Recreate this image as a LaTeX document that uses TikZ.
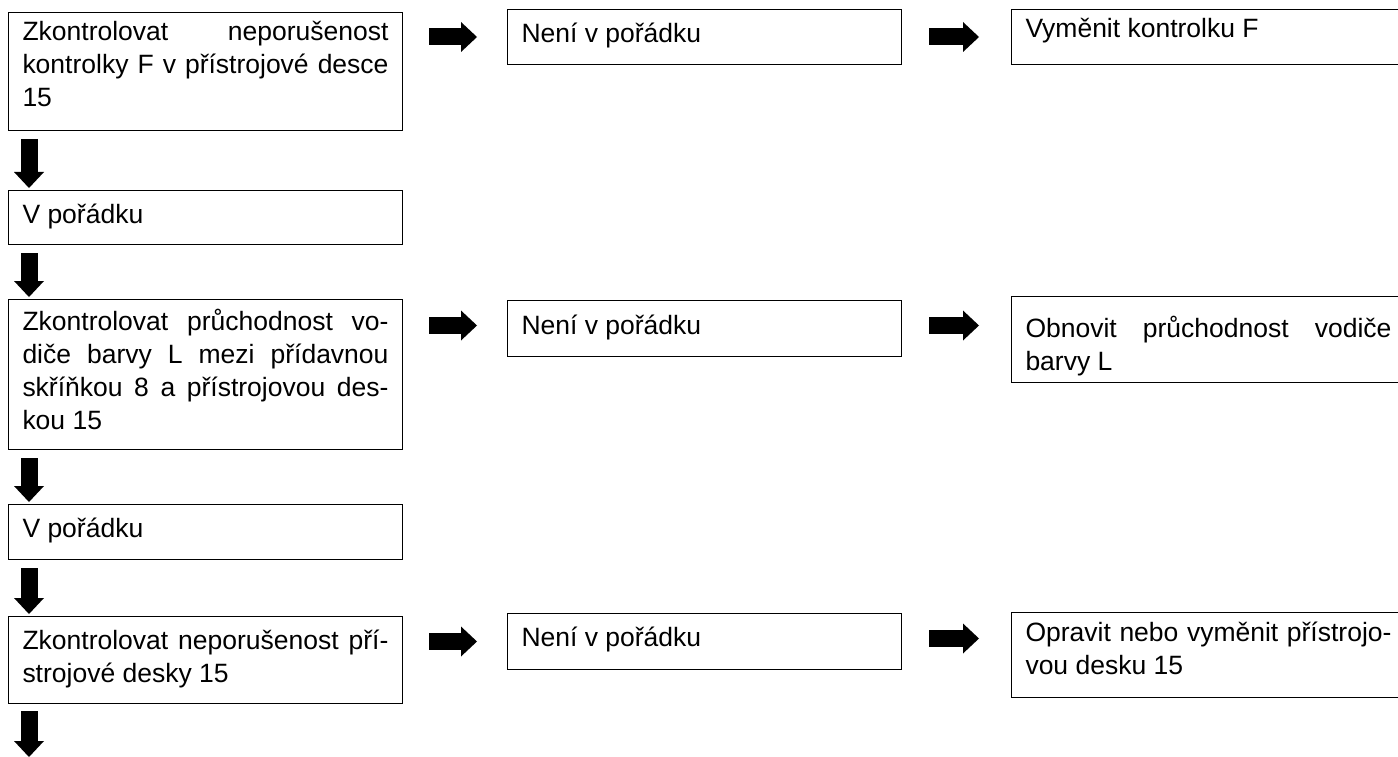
\documentclass[tikz,border=0pt]{standalone}
\usepackage{fontspec}
\setmainfont{Liberation Sans}
\usetikzlibrary{arrows.meta}

\tikzset{
  box/.style={draw, line width=1pt, anchor=north west, text width=366pt,
    inner xsep=14pt, inner ysep=0pt, align=justify,
    font=\fontsize{26.5}{33}\selectfont},
  fat/.style={line width=17pt,
    -{Triangle[length=16pt,width=30pt,line width=0pt]}},
}

\begin{document}
\begin{tikzpicture}[x=1pt,y=-1pt]

    \useasboundingbox (0,0) rectangle (1398,757);

    % Left column: the checks and their results
    \node[box, text height=28pt, text depth=90pt] (A1) at (8,12)
        {Zkontrolovat neporušenost\linebreak kontrolky F v přístrojové desce\linebreak 15};
    \node[box, text height=33pt, text depth=21pt] (A2) at (8,190) {V pořádku};
    \node[box, text height=31pt, text depth=119pt] (A3) at (8,299)
        {Zkontrolovat průchodnost vo-\linebreak diče barvy L mezi přídavnou\linebreak skříňkou 8 a přístrojovou des-\linebreak kou 15};
    \node[box, text height=33pt, text depth=22pt] (A4) at (8,504) {V pořádku};
    \node[box, text height=33pt, text depth=54pt] (A5) at (8,616)
        {Zkontrolovat neporušenost pří-\linebreak strojové desky 15};

    % Middle column
    \node[box, text height=33pt, text depth=22pt] (B1) at (507,9) {Není v pořádku};
    \node[box, text height=34pt, text depth=22pt] (B3) at (507,300) {Není v pořádku};
    \node[box, text height=33pt, text depth=23pt] (B5) at (507,613) {Není v pořádku};

    % Right column: the repairs
    \node[box, text height=28pt, text depth=27pt] (C1) at (1011,9) {Vyměnit kontrolku F};
    \node[box, text height=41pt, text depth=45pt] (C3) at (1011,296)
        {Obnovit průchodnost vodiče\linebreak barvy L};
    \node[box, text height=29pt, text depth=56pt] (C5) at (1011,612)
        {Opravit nebo vyměnit přístrojo-\linebreak vou desku 15};

    % Arrows down the left column
    \draw[fat, shorten <=8pt, shorten >=2pt] ([xshift=21pt]A1.south west) -- ([xshift=21pt]A2.north west);
    \draw[fat, shorten <=8pt, shorten >=2pt] ([xshift=21pt]A2.south west) -- ([xshift=21pt]A3.north west);
    \draw[fat, shorten <=8pt, shorten >=2pt] ([xshift=21pt]A3.south west) -- ([xshift=21pt]A4.north west);
    \draw[fat, shorten <=8pt, shorten >=2pt] ([xshift=21pt]A4.south west) -- ([xshift=21pt]A5.north west);
    \coordinate (end) at (29,757);
    \draw[fat, shorten <=7pt] ([xshift=21pt]A5.south west) -- (end);

    % Arrows to the right
    \draw[fat, shorten <=26pt, shorten >=30pt] (A1.east |- B1.west) -- (B1.west);
    \draw[fat, shorten <=27pt, shorten >=32pt] (B1.east) -- (C1.west |- B1.east);
    \draw[fat, shorten <=26pt, shorten >=30pt] ([yshift=3pt]A3.east |- B3.west) -- ([yshift=3pt]B3.west);
    \draw[fat, shorten <=27pt, shorten >=32pt] ([yshift=3pt]B3.east) -- ([yshift=3pt]C3.west |- B3.east);
    \draw[fat, shorten <=26pt, shorten >=30pt] (A5.east |- B5.west) -- (B5.west);
    \draw[fat, shorten <=27pt, shorten >=32pt] ([yshift=3pt]B5.east) -- ([yshift=3pt]C5.west |- B5.east);

\end{tikzpicture}
\end{document}
